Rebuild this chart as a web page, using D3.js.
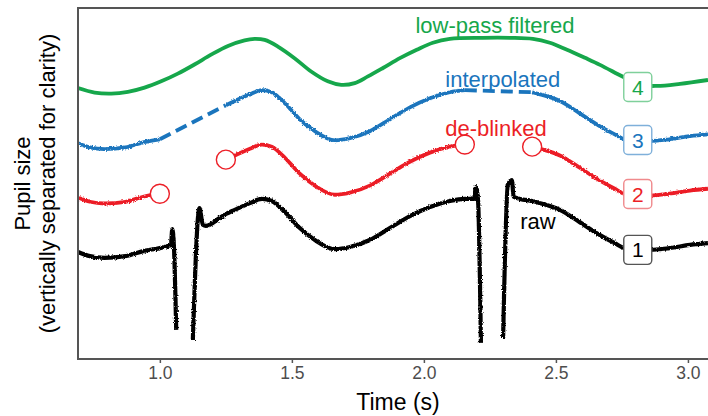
<!DOCTYPE html>
<html>
<head>
<meta charset="utf-8">
<script src="https://cdn.jsdelivr.net/npm/d3@7"></script>
<style>
  body { margin: 0; background: #fff; }
  text { font-family: "Liberation Sans", Arial, sans-serif; }
</style>
</head>
<body>
<div class="chart"></div>
<script>
// raw pupil trace (arbitrary units), null = missing sample
const rawTime = [0.69, 0.735, 0.79, 0.87, 0.94, 1.0, 1.03, 1.042, 1.047, 1.053, 1.062,
    1.09, 1.125, 1.15, 1.163, 1.174, 1.227, 1.25, 1.284, 1.341, 1.386, 1.424, 1.473,
    1.53, 1.587, 1.663, 1.72, 1.795, 1.871, 1.947, 2.023, 2.098, 2.155, 2.19, 2.197,
    2.205, 2.216, 2.26, 2.30, 2.318, 2.333, 2.34, 2.364, 2.41, 2.44, 2.515, 2.59,
    2.667, 2.723, 2.76, 2.856, 2.93, 3.008, 3.076];
const rawValue = [3.05, 2.93, 2.88, 2.93, 3.08, 3.16, 3.22, 3.25, 3.70, 3.25, 0.83,
    null, 0.54, 4.30, 3.82, 3.79, 4.02, 4.13, 4.25, 4.44, 4.56, 4.50, 4.19,
    3.73, 3.39, 3.13, 3.19, 3.39, 3.73, 4.07, 4.33, 4.50, 4.56, 4.56, 4.90,
    4.53, 0.46, null, 0.60, 4.96, 5.10, 4.62, 4.56, 4.50, 4.44, 4.25, 3.90,
    3.53, 3.30, 3.16, 3.11, 3.16, 3.25, 3.30];

// blink windows removed by de-blinking
const blinkStart = [1.0, 2.155];
const blinkEnd = [1.25, 2.41];

// low-pass filtered trace
const filtTime = [0.69, 0.753, 0.816, 0.879, 0.942, 1.005, 1.068, 1.131, 1.194, 1.258,
    1.321, 1.359, 1.397, 1.447, 1.51, 1.573, 1.636, 1.687, 1.738, 1.788, 1.845,
    1.909, 1.973, 2.034, 2.098, 2.223, 2.326, 2.413, 2.477, 2.542, 2.61, 2.667,
    2.754, 2.818, 2.883, 2.97, 3.076];
const filtValue = [3.07, 2.94, 2.91, 2.96, 3.08, 3.26, 3.48, 3.74, 4.02, 4.27,
    4.43, 4.47, 4.44, 4.25, 3.92, 3.54, 3.26, 3.16, 3.21, 3.40, 3.64,
    3.92, 4.16, 4.36, 4.47, 4.50, 4.50, 4.47, 4.36, 4.16, 3.93, 3.73,
    3.39, 3.16, 3.13, 3.19, 3.30];

// vertical separation of the four traces
const seriesOffset = [0, 1.55, 3.1, 4.65];
const seriesColor = ["#000000", "#ec1f27", "#1a75bd", "#16a74b"];
const seriesBorder = ["#555555", "#f08a8d", "#7fb0da", "#7fd09b"];

// numbered labels
const labelText = ["1", "2", "3", "4"];
const labelTime = [2.81, 2.81, 2.81, 2.81];
const labelValue = [3.11, 4.70, 6.24, 7.75];

// series names
const nameText = ["raw", "de-blinked", "interpolated", "low-pass filtered"];
const nameTime = [2.432, 2.273, 2.299, 2.269];
const nameValue = [3.93, 6.58, 7.98, 9.52];

const xTicks = [1.0, 1.5, 2.0, 2.5, 3.0];

// margin conventions
const margin = {top: 8, left: 78, right: 0, bottom: 57};
const width = 708 - margin.left - margin.right;
const height = 416 - margin.top - margin.bottom;

const svgRoot = d3.select(".chart").append("svg")
    .attr("width", 708)
    .attr("height", 416);

const svg = svgRoot.append("g")
    .attr("transform", "translate(" + margin.left + "," + margin.top + ")");

const defs = svgRoot.append("defs");
defs.append("clipPath")
    .attr("id", "panel")
    .append("rect")
    .attr("width", width)
    .attr("height", height);

// slight roughness like a sampled signal
const jitter = defs.append("filter")
    .attr("id", "jitter")
    .attr("x", "-5%").attr("y", "-10%")
    .attr("width", "110%").attr("height", "120%");
jitter.append("feTurbulence")
    .attr("type", "fractalNoise")
    .attr("baseFrequency", 0.7)
    .attr("numOctaves", 2)
    .attr("seed", 4)
    .attr("result", "noise");
jitter.append("feDisplacementMap")
    .attr("in", "SourceGraphic")
    .attr("in2", "noise")
    .attr("scale", 3)
    .attr("xChannelSelector", "R")
    .attr("yChannelSelector", "G");

// scales
const xScale = d3.scaleLinear()
    .domain([0.69, 3.076])
    .range([0, width]);

const yScale = d3.scaleLinear()
    .domain([0, 10])
    .range([height, 0]);

// data tables
const raw = rawTime.map((t, i) => ({t: t, v: rawValue[i]}));
const inBlink = t => blinkStart.some((s, i) => t > s && t < blinkEnd[i]);
const deblinked = raw.map(d => ({t: d.t, v: inBlink(d.t) ? null : d.v}));
const valueAt = t => raw.find(d => d.t === t).v;
const gaps = blinkStart.map((s, i) => [
    {t: s, v: valueAt(s)},
    {t: blinkEnd[i], v: valueAt(blinkEnd[i])}
]);
const filtered = filtTime.map((t, i) => ({t: t, v: filtValue[i]}));

const line = (off, curve) => d3.line()
    .defined(d => d.v != null)
    .curve(curve || d3.curveMonotoneX)
    .x(d => xScale(d.t))
    .y(d => yScale(d.v + off));

const plot = svg.append("g").attr("clip-path", "url(#panel)");

// low-pass filtered
plot.append("path")
    .datum(filtered)
    .attr("fill", "none")
    .attr("stroke", seriesColor[3])
    .attr("stroke-width", 3.8)
    .attr("stroke-linejoin", "round")
    .attr("d", line(seriesOffset[3], d3.curveCatmullRom));

// interpolated
plot.append("path")
    .datum(deblinked)
    .attr("fill", "none")
    .attr("stroke", seriesColor[2])
    .attr("stroke-width", 3.8)
    .attr("stroke-linejoin", "round")
    .attr("filter", "url(#jitter)")
    .attr("d", line(seriesOffset[2]));

plot.selectAll(".interp")
    .data(gaps)
    .join("path")
    .attr("class", "interp")
    .attr("fill", "none")
    .attr("stroke", seriesColor[2])
    .attr("stroke-width", 3.8)
    .attr("stroke-dasharray", "12,6")
    .attr("d", line(seriesOffset[2]));

// de-blinked
plot.append("path")
    .datum(deblinked)
    .attr("fill", "none")
    .attr("stroke", seriesColor[1])
    .attr("stroke-width", 3.8)
    .attr("stroke-linejoin", "round")
    .attr("filter", "url(#jitter)")
    .attr("d", line(seriesOffset[1]));

// raw
plot.append("path")
    .datum(raw)
    .attr("fill", "none")
    .attr("stroke", seriesColor[0])
    .attr("stroke-width", 4.2)
    .attr("stroke-linejoin", "round")
    .attr("filter", "url(#jitter)")
    .attr("d", line(seriesOffset[0]));

// blink edge markers
plot.selectAll(".edge")
    .data(gaps.flat())
    .join("circle")
    .attr("class", "edge")
    .attr("cx", d => xScale(d.t))
    .attr("cy", d => yScale(d.v + seriesOffset[1]))
    .attr("r", 9.5)
    .attr("fill", "#fff")
    .attr("stroke", seriesColor[1])
    .attr("stroke-width", 1.4);

// numbered labels
const labels = plot.selectAll(".num")
    .data(labelText)
    .join("g")
    .attr("class", "num")
    .attr("transform", (d, i) => `translate(${xScale(labelTime[i])},${yScale(labelValue[i])})`);

labels.append("rect")
    .attr("x", -14).attr("y", -14.5)
    .attr("width", 28).attr("height", 29)
    .attr("rx", 4)
    .attr("fill", "#fff")
    .attr("stroke", (d, i) => seriesBorder[i])
    .attr("stroke-width", 1.4);

labels.append("text")
    .attr("text-anchor", "middle")
    .attr("dy", "0.36em")
    .attr("font-size", 21)
    .attr("fill", (d, i) => seriesColor[i])
    .text(d => d);

// series names
svg.selectAll(".name")
    .data(nameText)
    .join("text")
    .attr("class", "name")
    .attr("x", (d, i) => xScale(nameTime[i]))
    .attr("y", (d, i) => yScale(nameValue[i]))
    .attr("dy", "0.35em")
    .attr("text-anchor", "middle")
    .attr("font-size", 22)
    .attr("fill", (d, i) => seriesColor[i])
    .text(d => d);

// panel border (right side runs off the page)
svg.append("rect")
    .attr("x", 0).attr("y", 0)
    .attr("width", width + 20)
    .attr("height", height)
    .attr("fill", "none")
    .attr("stroke", "#555")
    .attr("stroke-width", 2);

// axes
const xAxis = d3.axisBottom(xScale)
    .tickValues(xTicks)
    .tickFormat(d3.format(".1f"))
    .tickSize(4)
    .tickPadding(4);

const xAxisChart = svg.append("g")
    .attr("class", "axis x-axis")
    .attr("transform", `translate(0, ${height})`)
    .call(xAxis);

xAxisChart.select(".domain").remove();
xAxisChart.selectAll("line").attr("stroke", "#555").attr("stroke-width", 1.5);
xAxisChart.selectAll("text")
    .attr("font-size", 17.5)
    .attr("fill", "#4d4d4d")
    .style("font-family", "Liberation Sans, Arial, sans-serif");

svg.append("text")
    .attr("x", 320)
    .attr("y", height + 51)
    .attr("text-anchor", "middle")
    .attr("font-size", 23)
    .text("Time (s)");

const yTitle = svg.append("text")
    .attr("transform", `translate(-48, ${height / 2}) rotate(-90)`)
    .attr("text-anchor", "middle")
    .attr("font-size", 22);
yTitle.append("tspan").attr("x", 0).attr("dy", 0).text("Pupil size");
yTitle.append("tspan").attr("x", 0).attr("dy", 25).text("(vertically separated for clarity)");
</script>
</body>
</html>
